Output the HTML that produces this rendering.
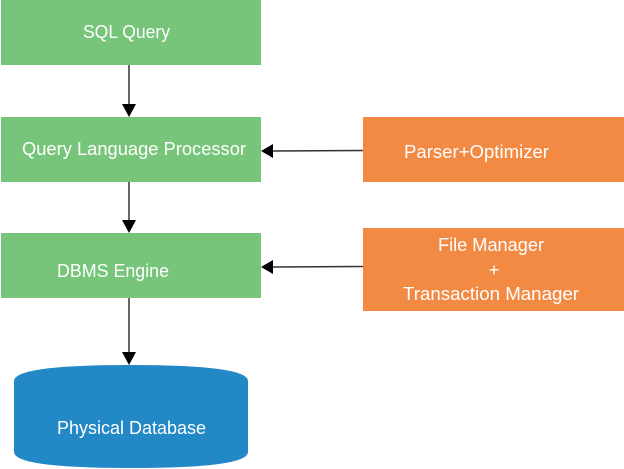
<!DOCTYPE html>
<html><head><style>html,body{margin:0;padding:0;background:#fff;}svg{display:block}</style></head>
<body>
<svg width="624" height="469" viewBox="0 0 624 469" xmlns="http://www.w3.org/2000/svg" font-family="Liberation Sans, sans-serif" font-size="18.5" fill="#fff">
<rect x="1" y="0" width="260" height="65" fill="#77c47b"/>
<rect x="1" y="117" width="260" height="65" fill="#77c47b"/>
<rect x="1" y="233" width="260" height="65" fill="#77c47b"/>
<rect x="363" y="117" width="261" height="65" fill="#f28a43"/>
<rect x="363" y="228" width="261" height="83" fill="#f28a43"/>
<path d="M14 381 Q14 365 131 365 Q248 365 248 381 L248 452 Q248 468 131 468 Q14 468 14 452 Z" fill="#2288c6"/>
<g stroke="#333" stroke-width="1.5">
<line x1="129" y1="65" x2="129" y2="105"/>
<line x1="129" y1="182" x2="129" y2="221"/>
<line x1="129" y1="298" x2="129" y2="353"/>
<line x1="272" y1="151" x2="363" y2="150.5"/>
<line x1="272" y1="267" x2="363" y2="266.5"/>
</g>
<g fill="#000">
<polygon points="122,104 136,104 129,117"/>
<polygon points="122,220 136,220 129,233"/>
<polygon points="122,352 136,352 129,365"/>
<polygon points="273,144 273,158 261,151"/>
<polygon points="273,260 273,274 261,267"/>
</g>
<text x="83" y="38" textLength="87" lengthAdjust="spacingAndGlyphs">SQL Query</text>
<text x="22" y="155" textLength="224" lengthAdjust="spacingAndGlyphs">Query Language Processor</text>
<text x="57" y="277" textLength="112" lengthAdjust="spacingAndGlyphs">DBMS Engine</text>
<text x="404" y="158" textLength="145" lengthAdjust="spacingAndGlyphs">Parser+Optimizer</text>
<text x="438" y="251" textLength="106" lengthAdjust="spacingAndGlyphs">File Manager</text>
<text x="494" y="276" text-anchor="middle">+</text>
<text x="403" y="300" textLength="176" lengthAdjust="spacingAndGlyphs">Transaction Manager</text>
<text x="57" y="434" textLength="149" lengthAdjust="spacingAndGlyphs">Physical Database</text>
</svg>
</body></html>
